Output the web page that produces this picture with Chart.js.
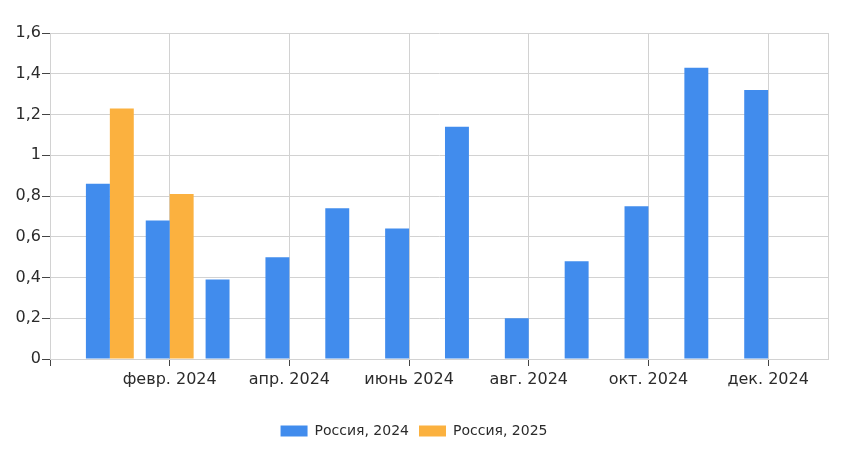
<!DOCTYPE html>
<html>
<head>
<meta charset="utf-8">
<script src="https://cdn.jsdelivr.net/npm/chart.js@4/dist/chart.umd.min.js"></script>
<style>
	html, body { margin: 0; padding: 0; background: #fff; }
	#wrap { width: 848px; height: 450px; }
</style>
</head>
<body>
<div id="wrap"><canvas id="graficoRussia"></canvas></div>
<script>
// месяцы 2024 (позиция 0..11 на оси x)
var meses = ['янв. 2024', 'февр. 2024', 'март 2024', 'апр. 2024', 'май 2024', 'июнь 2024',
	'июль 2024', 'авг. 2024', 'сент. 2024', 'окт. 2024', 'нояб. 2024', 'дек. 2024'];
var valores2024 = [0.86, 0.68, 0.39, 0.50, 0.74, 0.64, 1.14, 0.20, 0.48, 0.75, 1.43, 1.32];
var valores2025 = [1.23, 0.81];
var mesesComRotulo = [1, 3, 5, 7, 9, 11];
var yTicks = [0, 0.2, 0.4, 0.6, 0.8, 1, 1.2, 1.4, 1.6];

var azul = '#418ced';
var laranja = '#fbb13f';
var grade = '#d2d2d2';
var texto = '#2b2b2b';
var fonte = "'DejaVu Sans', sans-serif";

function pontos(valores) {
	return valores.map(function(v, i) { return { x: i, y: v }; });
}

var ctx = document.getElementById('graficoRussia').getContext('2d');

var grafico = new Chart(ctx, {
	type: 'bar',
	data: {
		datasets: [{
			label: 'Россия, 2024',
			backgroundColor: azul,
			data: pontos(valores2024)
		}, {
			label: 'Россия, 2025',
			backgroundColor: laranja,
			data: pontos(valores2025)
		}]
	},
	options: {
		responsive: true,
		maintainAspectRatio: false,
		animation: false,
		categoryPercentage: 0.8,
		barPercentage: 1,
		layout: { padding: { left: 0, right: 20, top: 33, bottom: 2 } },
		plugins: {
			tooltip: { enabled: false },
			legend: {
				position: 'bottom',
				labels: {
					boxWidth: 27,
					boxHeight: 11,
					padding: 10,
					color: texto,
					font: { family: fonte, size: 14 }
				}
			}
		},
		scales: {
			x: {
				type: 'linear',
				min: -1,
				max: 12,
				offset: false,
				afterBuildTicks: function(axis) {
					axis.ticks = [-1].concat(mesesComRotulo).concat([12]).map(function(v) { return { value: v }; });
				},
				afterFit: function(axis) { axis.height = 55; },
				ticks: {
					autoSkip: false,
					maxRotation: 0,
					padding: 4,
					color: texto,
					font: { family: fonte, size: 16 },
					callback: function(v) { return mesesComRotulo.indexOf(v) >= 0 ? meses[v] : ''; }
				},
				grid: {
					offset: false,
					color: grade,
					tickLength: 7,
					tickColor: function(c) { return c.tick && c.tick.value === 12 ? 'rgba(0,0,0,0)' : '#444'; }
				},
				border: { color: grade }
			},
			y: {
				min: 0,
				max: 1.6,
				afterBuildTicks: function(axis) {
					axis.ticks = yTicks.map(function(v) { return { value: v }; });
				},
				afterFit: function(axis) { axis.width = 50; },
				ticks: {
					padding: 1,
					color: texto,
					font: { family: fonte, size: 16 },
					callback: function(v) { return String(Math.round(v * 10) / 10).replace('.', ','); }
				},
				grid: { color: grade, tickLength: 8, tickColor: '#444' },
				border: { color: grade }
			},
			direita: {
				position: 'right',
				min: 0,
				max: 1.6,
				ticks: { display: false },
				grid: { drawOnChartArea: false, drawTicks: false },
				afterFit: function(axis) { axis.width = 0; },
				border: { color: grade }
			}
		}
	}
});
</script>
</body>
</html>
